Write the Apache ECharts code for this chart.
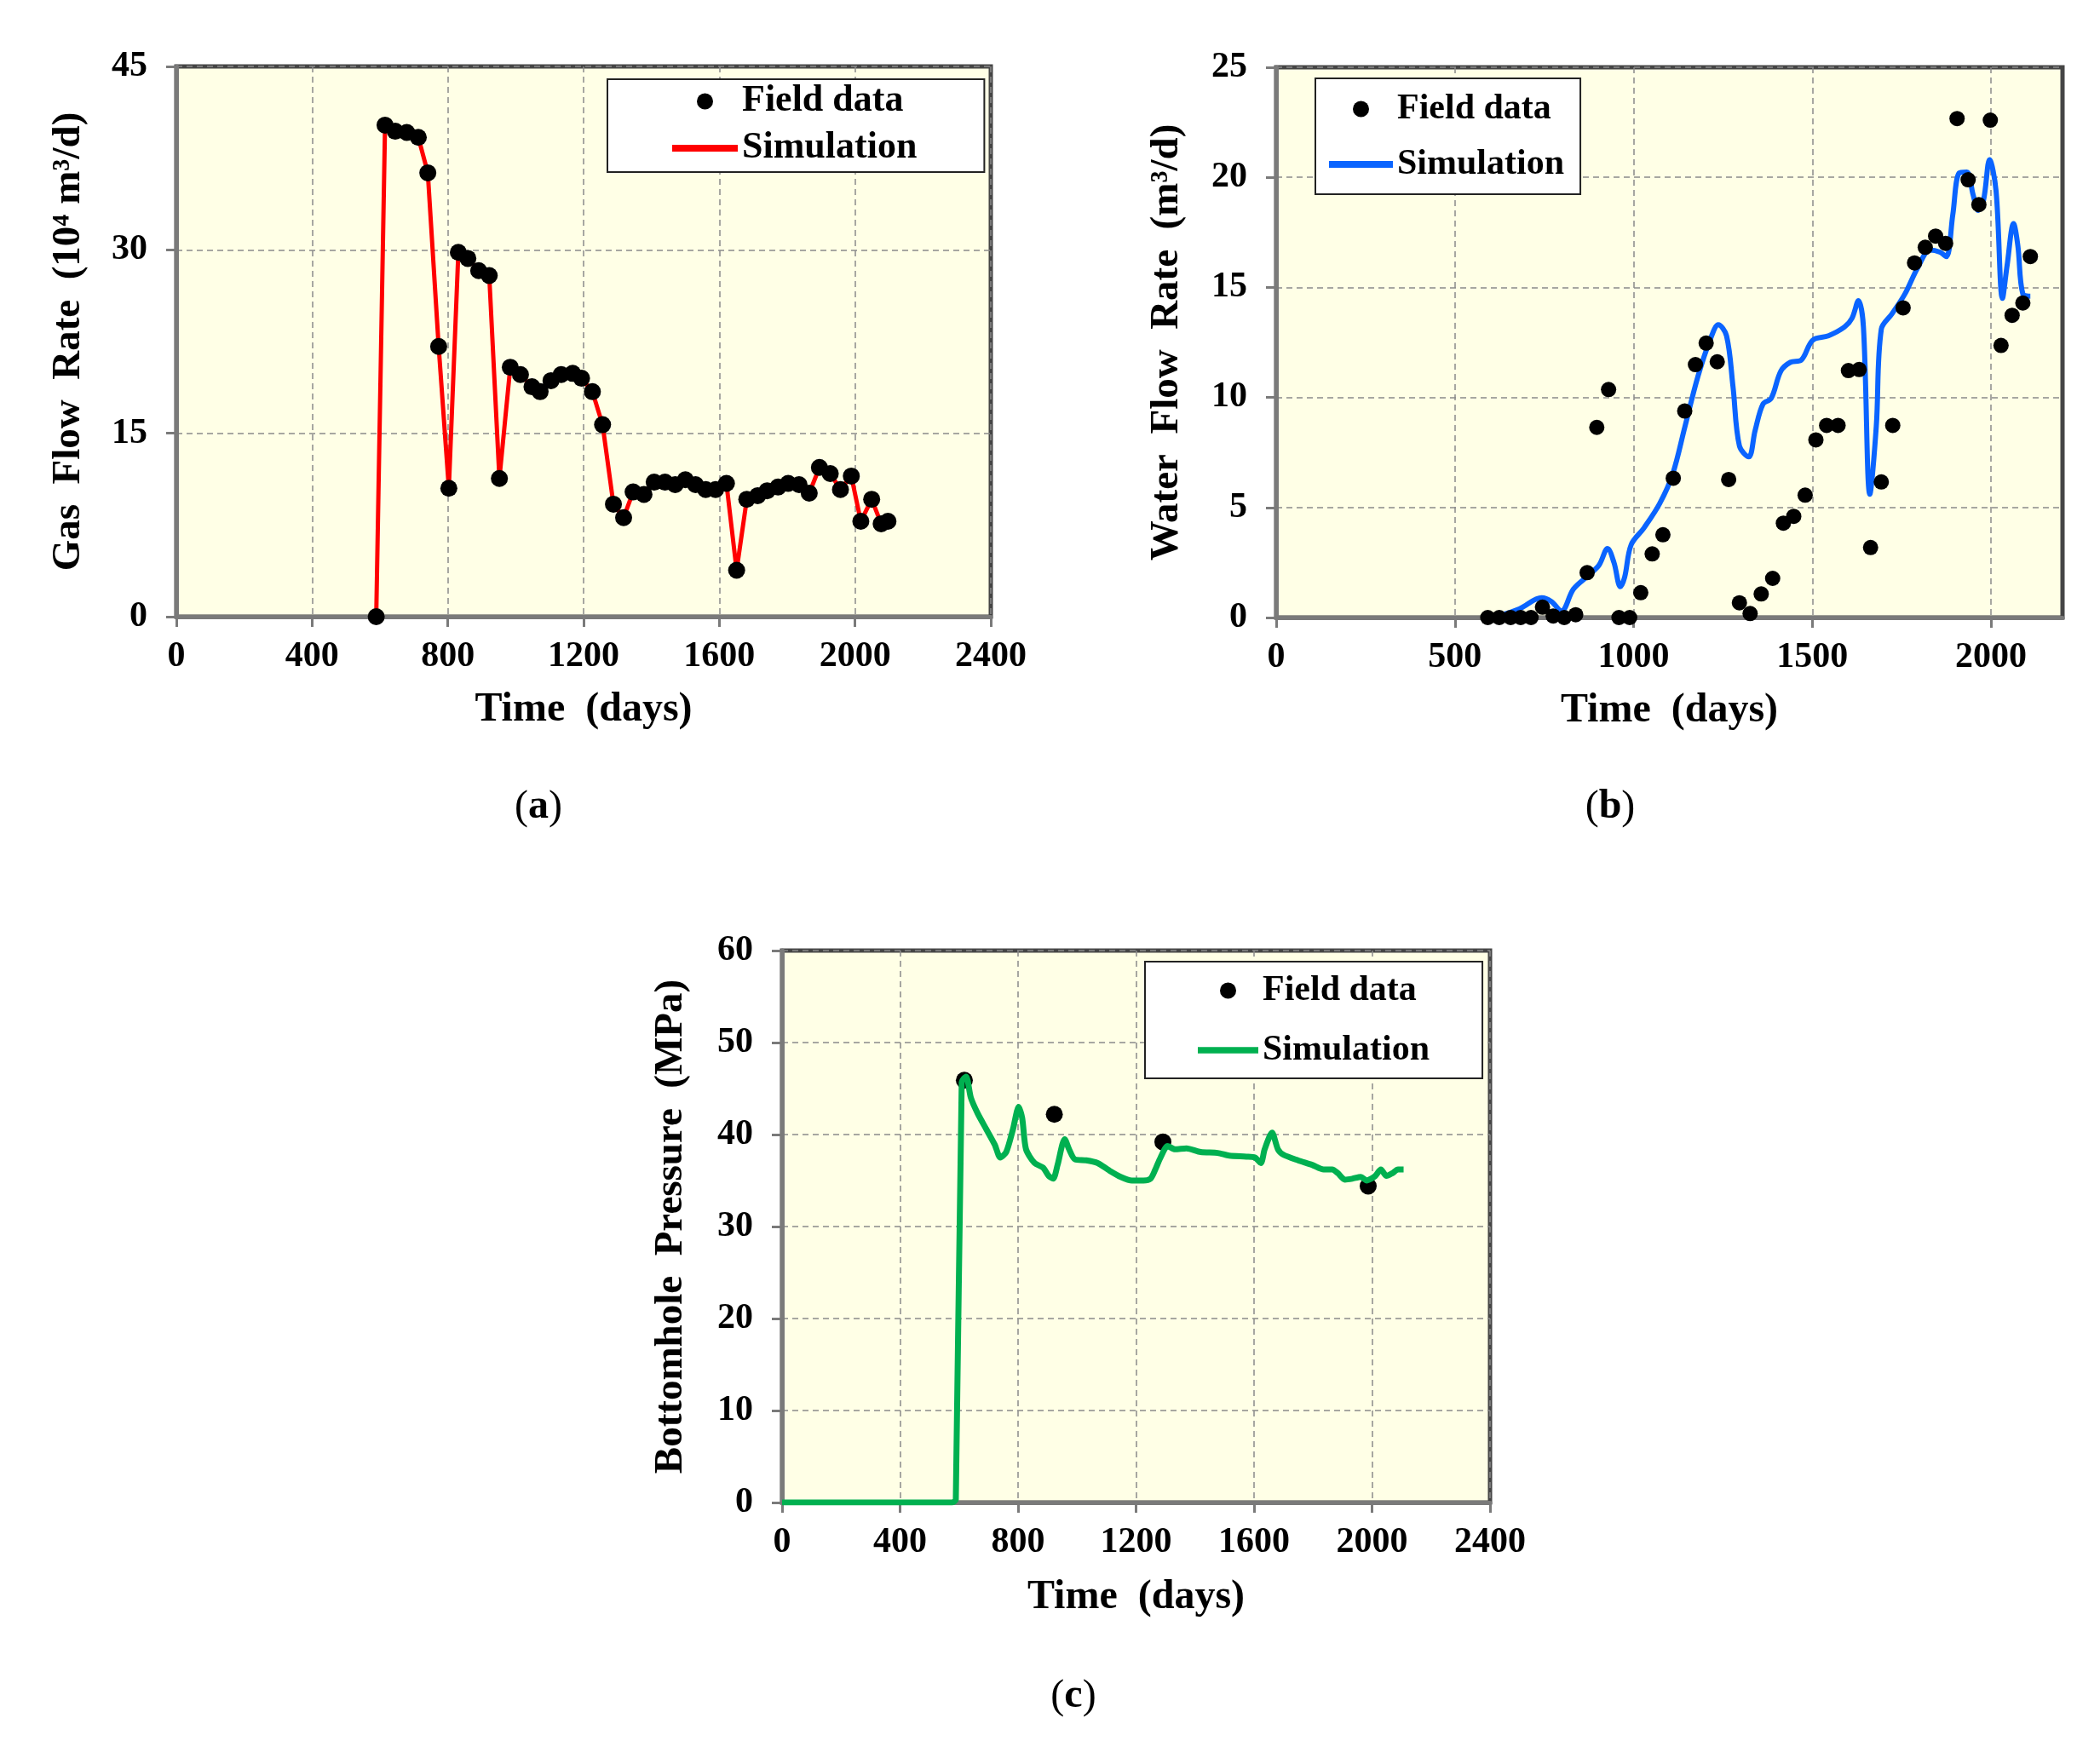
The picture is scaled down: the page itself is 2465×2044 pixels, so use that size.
<!DOCTYPE html>
<html>
<head>
<meta charset="utf-8">
<script src="https://cdn.jsdelivr.net/npm/echarts@6/dist/echarts.min.js"></script>
<style>
html, body { margin: 0; padding: 0; background: #fff; }
#chart { width: 2465px; height: 2044px; }
</style>
</head>
<body>
<div id="chart"></div>
<script>
// (a) gas flow rate
const gasDays = [589, 615, 645, 679, 713, 741, 773, 803, 831, 859, 891, 922, 952, 984, 1014, 1048, 1072, 1104, 1134, 1168,
  1194, 1226, 1256, 1288, 1318, 1346, 1378, 1408, 1440, 1470, 1500, 1530, 1560, 1589, 1621, 1651, 1681, 1713, 1741, 1773,
  1803, 1835, 1865, 1895, 1927, 1957, 1989, 2017, 2049, 2077, 2097];
const gasField = [0, 40.2, 39.7, 39.6, 39.2, 36.3, 22.1, 10.5, 29.8, 29.3, 28.3, 27.9, 11.3, 20.4, 19.8, 18.8, 18.4, 19.3, 19.8, 19.9,
  19.5, 18.4, 15.7, 9.2, 8.1, 10.2, 10.0, 11.0, 11.0, 10.8, 11.2, 10.8, 10.4, 10.4, 10.9, 3.8, 9.6, 9.9, 10.3, 10.6,
  10.9, 10.8, 10.1, 12.2, 11.7, 10.4, 11.5, 7.8, 9.6, 7.6, 7.8];

// (b) water flow rate
const waterDays = [592, 624, 656, 684, 713, 745, 775, 806, 838, 870, 897, 930, 959, 989, 1020, 1052, 1082, 1111, 1143, 1173,
  1203, 1234, 1266, 1296, 1326, 1357, 1389, 1419, 1448, 1480, 1510, 1540, 1572, 1601, 1631, 1663, 1693, 1725, 1754, 1786,
  1816, 1845, 1873, 1905, 1936, 1966, 1998, 2028, 2059, 2089, 2110];
const waterField = [0, 0, 0, 0, 0, 0.47, 0.07, 0, 0.13, 2.04, 8.64, 10.36, 0, 0, 1.13, 2.89, 3.76, 6.33, 9.38, 11.49,
  12.47, 11.62, 6.27, 0.67, 0.18, 1.07, 1.78, 4.29, 4.6, 5.56, 8.07, 8.73, 8.73, 11.22, 11.27, 3.18, 6.16, 8.73, 14.07, 16.11,
  16.82, 17.33, 17.0, 22.67, 19.89, 18.76, 22.6, 12.36, 13.73, 14.29, 16.4];
const waterSimDays = [592, 627, 681, 743, 770, 798, 832, 877, 904, 927, 945, 963, 975, 993, 1029, 1073, 1109, 1144, 1180, 1216,
  1237, 1260, 1278, 1296, 1322, 1340, 1362, 1385, 1412, 1439, 1469, 1501, 1545, 1590, 1611, 1629, 1643, 1661, 1679, 1693,
  1723, 1759, 1795, 1830, 1857, 1875, 1893, 1911, 1932, 1950, 1964, 1979, 1996, 2014, 2032, 2045, 2063, 2075, 2089, 2110];
const waterSim = [0, 0.1, 0.4, 0.9, 0.73, 0.3, 1.3, 1.96, 2.4, 3.13, 2.5, 1.4, 1.84, 3.3, 4.07, 5.18, 6.5, 8.7, 10.96, 12.7,
  13.3, 12.8, 10.5, 7.8, 7.3, 8.5, 9.7, 9.96, 11.2, 11.6, 11.7, 12.6, 12.8, 13.2, 13.6, 14.4, 13.2, 5.6, 8.7, 13.1,
  13.8, 14.7, 15.9, 16.7, 16.6, 16.4, 18.3, 20.2, 20.24, 19.2, 18.5, 18.96, 20.8, 19.4, 14.5, 16.0, 17.9, 16.9, 14.7, 14.6];

// (c) bottomhole pressure
const bhpDays = [618, 923, 1291, 1987];
const bhpField = [45.9, 42.2, 39.2, 34.4];
const bhpSimDays = [0, 576, 589, 609, 624, 640, 663, 692, 721, 740, 760, 783, 802, 814, 827, 856, 885, 904, 919, 934,
  958, 973, 993, 1031, 1070, 1109, 1148, 1186, 1225, 1249, 1264, 1283, 1307, 1332, 1371, 1419, 1477, 1516, 1574, 1603,
  1623, 1636, 1661, 1681, 1700, 1749, 1797, 1836, 1865, 1884, 1908, 1933, 1962, 1982, 1997, 2011, 2030, 2049, 2069, 2088, 2107];
const bhpSim = [0, 0, 0.3, 45.7, 46.3, 44.0, 42.3, 40.6, 38.9, 37.5, 38.1, 40.6, 43.0, 41.8, 38.4, 36.9, 36.4, 35.5, 35.2, 36.7,
  39.5, 38.4, 37.3, 37.2, 36.9, 36.1, 35.4, 35.0, 35.0, 35.2, 36.1, 37.5, 38.75, 38.4, 38.5, 38.1, 38.0, 37.7, 37.6, 37.5,
  36.9, 38.4, 40.2, 38.4, 37.8, 37.2, 36.7, 36.2, 36.2, 35.8, 35.1, 35.2, 35.4, 35.0, 35.2, 35.5, 36.2, 35.5, 35.8, 36.2, 36.2];

const waterTicks = [0, 500, 1000, 1500, 2000];

const FONT = '"Liberation Serif", "Times New Roman", serif';
const legendNames = {
  gasField: 'Field data', gasSim: 'Simulation',
  waterField: 'Field data', waterSim: 'Simulation',
  bhpField: 'Field data', bhpSim: 'Simulation'
};
// flat bar used as the legend icon of the simulation lines
const lineIcon = 'path://M0,0 L76,0 L76,8 L0,8 Z';

function pairs(xs, ys) {
  return xs.map((x, i) => [x, ys[i]]);
}

function labelStyle(margin, extra) {
  return Object.assign({
    margin: margin,
    fontFamily: FONT,
    fontWeight: 'bold',
    fontSize: 42,
    color: '#000',
    formatter: v => String(v)
  }, extra || {});
}

function xAxisOf(grid, max, interval, nameGap, ticks) {
  const tickOpt = { show: true, length: 12, lineStyle: { color: '#7a7a7a', width: 3 } };
  const labelOpt = labelStyle(26);
  if (ticks) {
    tickOpt.customValues = ticks;
    labelOpt.customValues = ticks;
  }
  return {
    type: 'value',
    gridIndex: grid,
    min: 0,
    max: max,
    interval: interval,
    name: 'Time  (days)',
    nameLocation: 'middle',
    nameGap: nameGap,
    nameTextStyle: { fontFamily: FONT, fontWeight: 'bold', fontSize: 48, color: '#000' },
    axisLine: { show: true, onZero: false, lineStyle: { color: '#7a7a7a', width: 5 } },
    axisTick: tickOpt,
    axisLabel: labelOpt,
    splitLine: { show: true, lineStyle: { color: '#8a8a8a', width: 1.5, type: [7, 5] } }
  };
}

function yAxisOf(grid, max, interval, name, nameGap) {
  return {
    type: 'value',
    gridIndex: grid,
    min: 0,
    max: max,
    interval: interval,
    name: name,
    nameLocation: 'middle',
    nameGap: nameGap,
    nameTextStyle: { fontFamily: FONT, fontWeight: 'bold', fontSize: 47, color: '#000' },
    axisLine: { show: true, onZero: false, lineStyle: { color: '#7a7a7a', width: 5 } },
    axisTick: { show: true, length: 12, lineStyle: { color: '#7a7a7a', width: 3 } },
    axisLabel: labelStyle(34),
    splitLine: { show: true, lineStyle: { color: '#8a8a8a', width: 1.5, type: [7, 5] } }
  };
}

function legendOf(left, top, padding, itemWidth, itemGap, fontSize, fieldName, simName) {
  return {
    orient: 'vertical',
    left: left,
    top: top,
    padding: padding,
    itemWidth: itemWidth,
    itemHeight: 19,
    itemGap: itemGap,
    backgroundColor: '#fff',
    borderColor: '#222',
    borderWidth: 2,
    selectedMode: false,
    textStyle: { fontFamily: FONT, fontWeight: 'bold', fontSize: fontSize, color: '#000' },
    formatter: n => legendNames[n],
    data: [
      { name: fieldName, icon: 'circle' },
      { name: simName, icon: lineIcon }
    ]
  };
}

function caption(x, y, letter) {
  return {
    type: 'text',
    x: x,
    y: y,
    style: {
      text: '{p|(}{b|' + letter + '}{p|)}',
      align: 'center',
      verticalAlign: 'middle',
      rich: {
        p: { fontFamily: FONT, fontSize: 48, color: '#000' },
        b: { fontFamily: FONT, fontSize: 48, fontWeight: 'bold', color: '#000' }
      }
    }
  };
}

const gridStyle = {
  show: true,
  backgroundColor: '#FFFFE6',
  borderColor: '#454545',
  borderWidth: 5,
  containLabel: false
};

const myChart = echarts.init(document.getElementById('chart'));
const option = {
  animation: false,
  backgroundColor: '#fff',
  grid: [
    Object.assign({ left: 207, top: 78, width: 956, height: 646 }, gridStyle),
    Object.assign({ left: 1498, top: 79, width: 923, height: 646 }, gridStyle),
    Object.assign({ left: 918, top: 1116, width: 831, height: 648 }, gridStyle)
  ],
  xAxis: [
    xAxisOf(0, 2400, 400, 86),
    xAxisOf(1, 2200, 500, 86, waterTicks),
    xAxisOf(2, 2400, 400, 88)
  ],
  yAxis: [
    yAxisOf(0, 45, 15, 'Gas  Flow  Rate  (10\u2074 m\u00B3/d)', 103),
    yAxisOf(1, 25, 5, 'Water  Flow  Rate  (m\u00B3/d)', 105),
    yAxisOf(2, 60, 10, 'Bottomhole  Pressure  (MPa)', 107)
  ],
  legend: [
    legendOf(713, 93, [4, 79, 6, 76], 77, 11, 44, 'gasField', 'gasSim'),
    legendOf(1544, 92, [15, 19, 14, 16], 75, 23, 42, 'waterField', 'waterSim'),
    legendOf(1344, 1129, [13, 62, 12, 62], 71, 28, 42, 'bhpField', 'bhpSim')
  ],
  graphic: [
    caption(632, 948, 'a'),
    caption(1890, 948, 'b'),
    caption(1260, 1992, 'c')
  ],
  series: [
    {
      name: 'gasSim', type: 'line', xAxisIndex: 0, yAxisIndex: 0,
      data: pairs(gasDays, gasField),
      symbol: 'none', lineStyle: { color: '#FF0000', width: 5 }, itemStyle: { color: '#FF0000' }, z: 2
    },
    {
      name: 'gasField', type: 'scatter', xAxisIndex: 0, yAxisIndex: 0,
      data: pairs(gasDays, gasField),
      symbolSize: 20, itemStyle: { color: '#000', opacity: 1 }, z: 3
    },
    {
      name: 'waterSim', type: 'line', xAxisIndex: 1, yAxisIndex: 1,
      data: pairs(waterSimDays, waterSim), smooth: 0.35,
      symbol: 'none', lineStyle: { color: '#0A64FF', width: 6 }, itemStyle: { color: '#0A64FF' }, z: 2
    },
    {
      name: 'waterField', type: 'scatter', xAxisIndex: 1, yAxisIndex: 1,
      data: pairs(waterDays, waterField),
      symbolSize: 18, itemStyle: { color: '#000', opacity: 1 }, z: 3
    },
    {
      name: 'bhpField', type: 'scatter', xAxisIndex: 2, yAxisIndex: 2,
      data: pairs(bhpDays, bhpField),
      symbolSize: 20, itemStyle: { color: '#000', opacity: 1 }, z: 2
    },
    {
      name: 'bhpSim', type: 'line', xAxisIndex: 2, yAxisIndex: 2,
      data: pairs(bhpSimDays, bhpSim), smooth: 0.25,
      symbol: 'none', lineStyle: { color: '#00B050', width: 7 }, itemStyle: { color: '#00B050' }, z: 3
    }
  ]
};
myChart.setOption(option);
window.addEventListener('resize', function() {
  myChart.resize();
});
</script>
</body>
</html>
